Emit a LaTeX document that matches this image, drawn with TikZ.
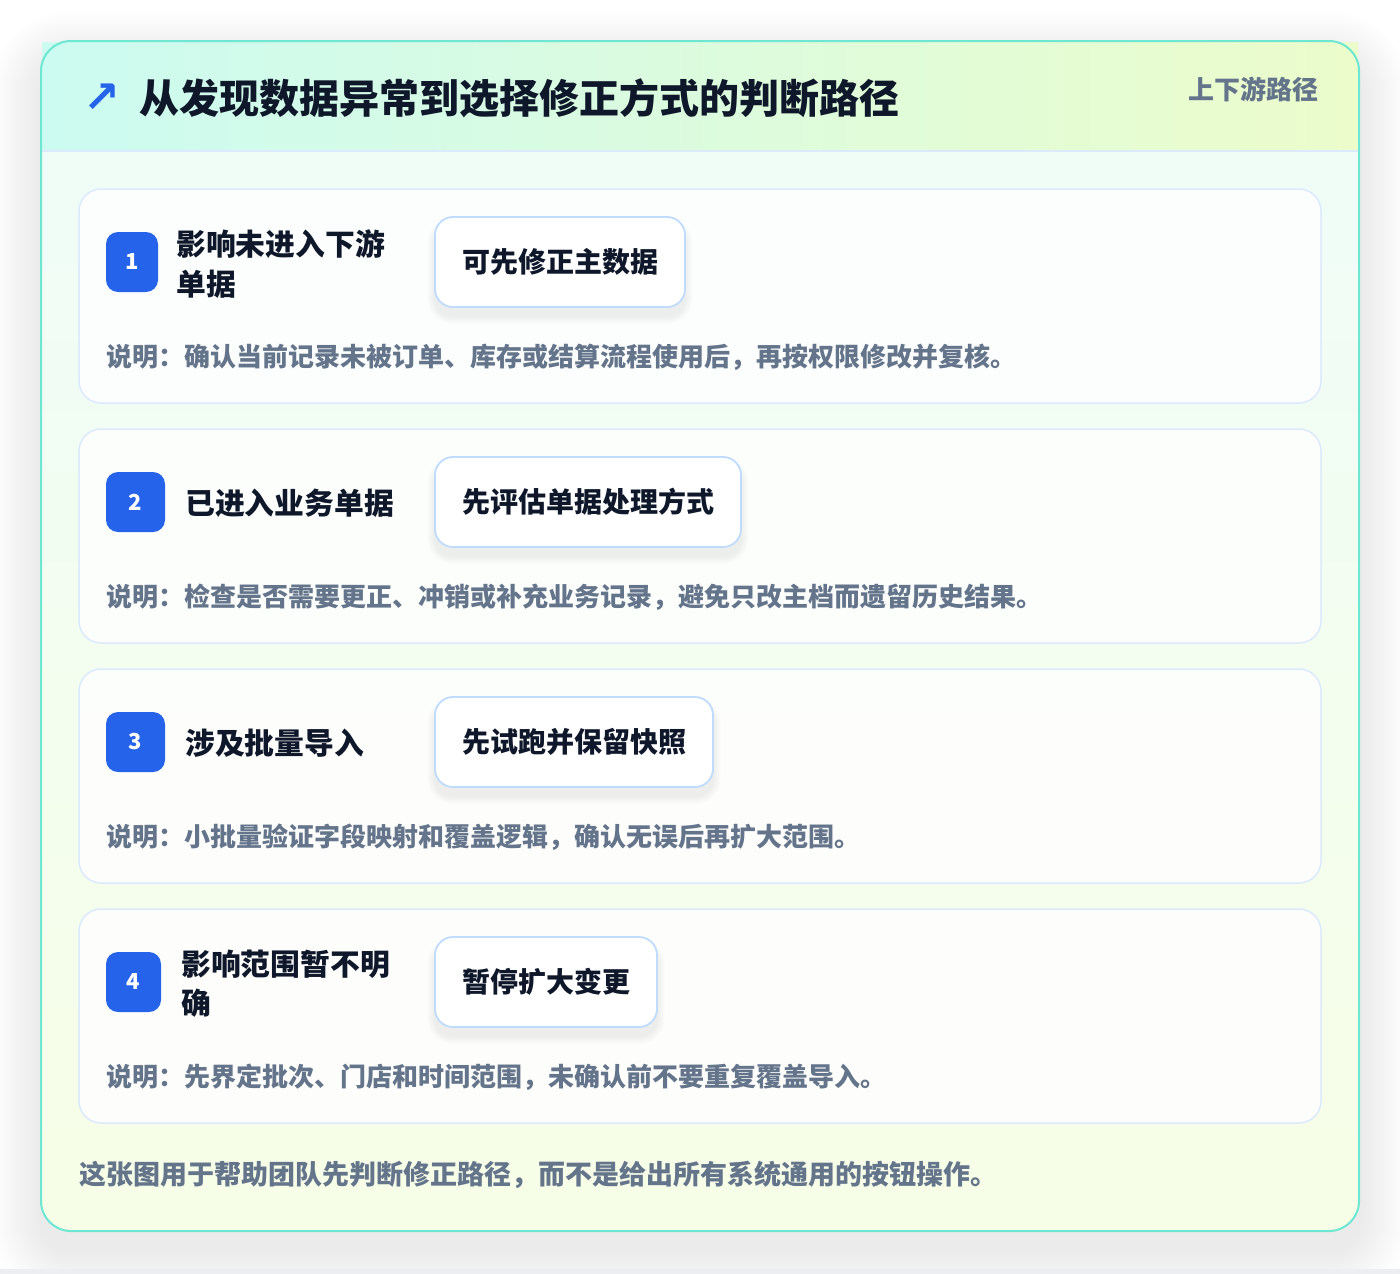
\documentclass[tikz,border=0pt]{standalone}
\usepackage{fontspec}
\setmainfont{Noto Sans CJK SC}
\newfontfamily\arrowfont{DejaVu Sans}
\definecolor{frameline}{HTML}{6EE7D2}
\definecolor{hdrL}{HTML}{CCFBF1}
\definecolor{hdrR}{HTML}{ECFCCB}
\definecolor{bodyT}{HTML}{EFFDF9}
\definecolor{bodyB}{HTML}{F7FEE7}
\definecolor{cardline}{HTML}{DBEAFE}
\definecolor{pillline}{HTML}{BFDBFE}
\definecolor{inkc}{HTML}{0F172A}
\definecolor{mutedc}{HTML}{64748B}
\definecolor{badgeblue}{HTML}{2563EB}
\definecolor{stripc}{HTML}{ECEEF1}
\tikzset{
  cardbox/.style={draw=cardline, line width=1.5pt, fill=white, fill opacity=0.82, rounded corners=22pt},
  pill/.style={draw=pillline, line width=1.8pt, fill=white, rounded corners=18pt, inner sep=0pt,
    text=inkc, font=\bfseries\fontsize{28}{34}\selectfont},
  badge/.style={fill=badgeblue, rounded corners=12pt, inner sep=0pt, text=white,
    minimum height=60pt, font=\bfseries\fontsize{22}{26}\selectfont},
  lbl/.style={anchor=west, inner sep=0pt, text=inkc, font=\bfseries\fontsize{29.8}{40}\selectfont},
  desc/.style={anchor=west, inner sep=0pt, text=mutedc, font=\bfseries\fontsize{26}{30}\selectfont},
}
\begin{document}
\begin{tikzpicture}[x=1pt,y=-1pt]
\useasboundingbox (0,0) rectangle (1400,1274);
\fill[white] (0,0) rectangle (1400,1274);
% outer shadow
\foreach \i in {1,...,20}{
  \fill[black, opacity=0.0035, rounded corners={30pt+2.5*\i pt}]
    ({41-2.5*\i},{41-2.5*\i+20}) rectangle ({1359+2.5*\i},{1231+2.5*\i+20});
}
\fill[stripc] (0,1269) rectangle (1400,1274);
% body
\shade[top color=bodyT, bottom color=bodyB, rounded corners=30pt] (41,41) rectangle (1359,1231);
% header
\shade[left color=hdrL, right color=hdrR] (42,42) rectangle (1358,151);
\draw[cardline, line width=1.5pt] (42,151) -- (1358,151);
\draw[frameline, line width=2pt, rounded corners=30pt] (41,41) rectangle (1359,1231);
% header text
\node[text=badgeblue, inner sep=0pt, font=\arrowfont\bfseries\fontsize{44}{44}\selectfont] (icon) at (102,98) {↗};
\node[anchor=west, inner sep=0pt, text=inkc, font=\bfseries\fontsize{40}{46}\selectfont] (title) at (139,98) {从发现数据异常到选择修正方式的判断路径};
\node[anchor=east, inner sep=0pt, text=mutedc, font=\bfseries\fontsize{26}{30}\selectfont] (tag) at (1319,89) {上下游路径};
% cards
\foreach \t in {189,429,669,909}{
  \draw[cardbox] (79,\t) rectangle (1321,\t+214);
}
% pill shadows
\foreach \cy/\w in {262/250,502/306,742/278,982/222}{
  \foreach \i in {1,...,8}{
    \fill[black, opacity=0.006, rounded corners={18pt+\i pt}]
      ({435-\i},{\cy-45-\i+9}) rectangle ({435+\w+\i},{\cy+45+\i+9});
  }
}
% card 1
\node[badge, minimum width=52pt] (b1) at (132,262) {1};
\node[lbl] (l1a) at (176,244) {影响未进入下游};
\node[lbl] (l1b) at (176,284) {单据};
\node[pill, minimum width=250pt, minimum height=90pt] (p1) at (560,262) {可先修正主数据};
\node[desc] (d1) at (106,357) {说明：确认当前记录未被订单、库存或结算流程使用后，再按权限修改并复核。};
% card 2
\node[badge, minimum width=59pt] (b2) at (135.5,502) {2};
\node[lbl] (l2) at (185,503) {已进入业务单据};
\node[pill, minimum width=306pt, minimum height=90pt] (p2) at (588,502) {先评估单据处理方式};
\node[desc] (d2) at (106,597) {说明：检查是否需要更正、冲销或补充业务记录，避免只改主档而遗留历史结果。};
% card 3
\node[badge, minimum width=59pt] (b3) at (135.5,742) {3};
\node[lbl] (l3) at (185,743) {涉及批量导入};
\node[pill, minimum width=278pt, minimum height=90pt] (p3) at (574,742) {先试跑并保留快照};
\node[desc] (d3) at (106,837) {说明：小批量验证字段映射和覆盖逻辑，确认无误后再扩大范围。};
% card 4
\node[badge, minimum width=55pt] (b4) at (133.5,982) {4};
\node[lbl] (l4a) at (181,964) {影响范围暂不明};
\node[lbl] (l4b) at (181,1003) {确};
\node[pill, minimum width=222pt, minimum height=90pt] (p4) at (546,982) {暂停扩大变更};
\node[desc] (d4) at (106,1077) {说明：先界定批次、门店和时间范围，未确认前不要重复覆盖导入。};
% footer
\node[desc, font=\bfseries\fontsize{27}{30}\selectfont] (foot) at (79,1175) {这张图用于帮助团队先判断修正路径，而不是给出所有系统通用的按钮操作。};
\end{tikzpicture}
\end{document}
